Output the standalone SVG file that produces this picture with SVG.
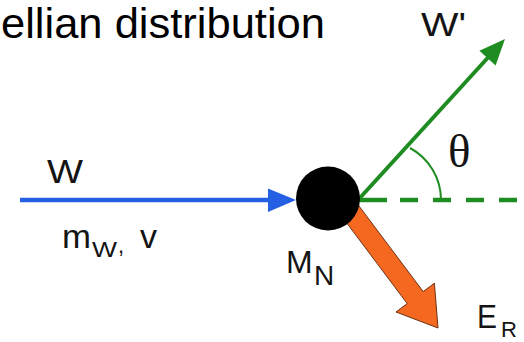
<svg xmlns="http://www.w3.org/2000/svg" width="524" height="342" viewBox="0 0 524 342">
<style>
  .lbl { font-family: "Liberation Sans", Arial, sans-serif; fill: #141414; }
  .title { font-family: "Liberation Sans", Arial, sans-serif; fill: #000; font-size: 43px; }
  .green { stroke: #1f8c22; fill: none; }
</style>
<rect width="524" height="342" fill="#fff"/>
<g id="title">
  <text class="title" x="1" y="38" textLength="324" lengthAdjust="spacingAndGlyphs">ellian distribution</text>
</g>
<g id="connectors">
  <line x1="20" y1="200" x2="272" y2="200" stroke="#2560e4" stroke-width="4.5"/>
  <polygon points="268,188.5 296,200 268,212" fill="#2560e4"/>
  <line class="green" x1="356" y1="200" x2="387" y2="200" stroke-width="4.5"/>
  <line class="green" x1="400" y1="200" x2="524" y2="200" stroke-width="4.5" stroke-dasharray="18 15"/>
  <line class="green" x1="358" y1="200" x2="488.5" y2="57" stroke-width="4"/>
  <polygon points="505,39 495.6,65.6 479.4,50.8" fill="#1f8c22"/>
  <path class="green" d="M 410 148 A 59 59 0 0 1 441 200" stroke-width="2"/>
  <polygon points="350,194 423.2,291.6 434.4,283.2 438,328 396,312 407.2,303.6 334,206" fill="#f5681f" stroke="#6b3210" stroke-width="1"/>
</g>
<g id="incoming">
  <text class="lbl" x="47" y="183" font-size="34" textLength="36" lengthAdjust="spacingAndGlyphs">W</text>
  <text class="lbl" x="62" y="248" font-size="34" textLength="29" lengthAdjust="spacingAndGlyphs">m</text>
  <text class="lbl" x="92" y="257" font-size="22" textLength="25" lengthAdjust="spacingAndGlyphs">W</text>
  <text class="lbl" x="118" y="253" font-size="22">,</text>
  <text class="lbl" x="140" y="248" font-size="34">v</text>
</g>
<g id="nucleus">
  <circle cx="328" cy="198.5" r="32" fill="#000"/>
  <text class="lbl" x="286" y="273" font-size="32">M</text>
  <text class="lbl" x="314" y="285" font-size="28">N</text>
</g>
<g id="scattered">
  <text class="lbl" x="421" y="36" font-size="34" textLength="45" lengthAdjust="spacingAndGlyphs">W'</text>
</g>
<g id="angle">
  <text x="448" y="167" font-size="47" font-family="'Liberation Serif', 'Times New Roman', serif" fill="#141414">θ</text>
</g>
<g id="recoil">
  <text class="lbl" x="477" y="328" font-size="34" textLength="20" lengthAdjust="spacingAndGlyphs">E</text>
  <text class="lbl" x="501" y="337" font-size="22">R</text>
</g>
</svg>
